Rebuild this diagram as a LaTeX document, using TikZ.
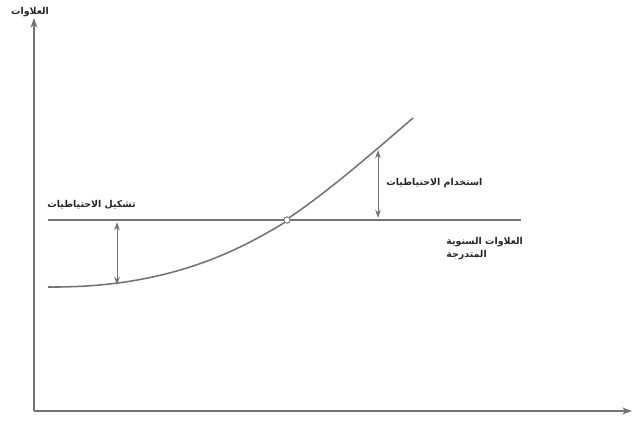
\documentclass[tikz,border=0pt]{standalone}
\usepackage{fontspec}
\TeXXeTstate=1
\newfontfamily\arabicfont[Script=Arabic]{DejaVu Sans}
\usetikzlibrary{arrows.meta, positioning, calc}

\begin{document}
\begin{tikzpicture}[x=0.025cm, y=-0.025cm, line width=1.1pt,
    axis/.style={draw=black!55, -{Stealth[length=7pt, width=5pt]}},
    curve/.style={draw=black!55},
    gap/.style={draw=black!55, line width=0.7pt, {Stealth[length=6pt, width=4pt]}-{Stealth[length=6pt, width=4pt]}},
    dot/.style={circle, draw=black!55, fill=white, line width=0.7pt, inner sep=1.6pt},
    every node/.style={font=\arabicfont\bfseries\fontsize{6.7}{9}\selectfont, text=black!85}]
  \useasboundingbox (0,0) rectangle (638,422);
  % axes
  \coordinate (o) at (34,411);
  \coordinate (ytop) at (34,18);
  \coordinate (xend) at (632,411);
  \draw[axis] (o) -- (ytop);
  \draw[axis] (o) -- (xend);
  \node (ylab) at (30,12) {\beginR العلاوات\endR};
  % level premium line and natural premium curve
  \coordinate (lvlL) at (48,220);
  \coordinate (lvlR) at (521,220);
  \draw[curve] (lvlL) -- (lvlR);
  \node[dot] (cross) at (287,220) {};
  \coordinate (cstart) at (48,287);
  \coordinate (cend) at (413,118);
  \draw[curve] (cstart) .. controls (160,288) and (230,256) .. (cross.south west)
    (cross.north east) .. controls (330,190) and (370,155) .. (cend);
  % reserve arrows
  \coordinate (gL1) at (117,222);
  \coordinate (gL2) at (117,285);
  \coordinate (gR1) at (378,150);
  \coordinate (gR2) at (378,218);
  \draw[gap] (gL1) -- (gL2);
  \draw[gap] (gR1) -- (gR2);
  % labels
  \node[anchor=east] (build) at (141,205) {\beginR تشكيل الاحتياطيات\endR};
  \node[anchor=west] (use) at (381,183) {\beginR استخدام الاحتياطيات\endR};
  \node[anchor=north west, align=left] (level) at (441,232)
    {\beginR العلاوات السنوية\endR\\\beginR المتدرجة\endR};
\end{tikzpicture}
\end{document}
